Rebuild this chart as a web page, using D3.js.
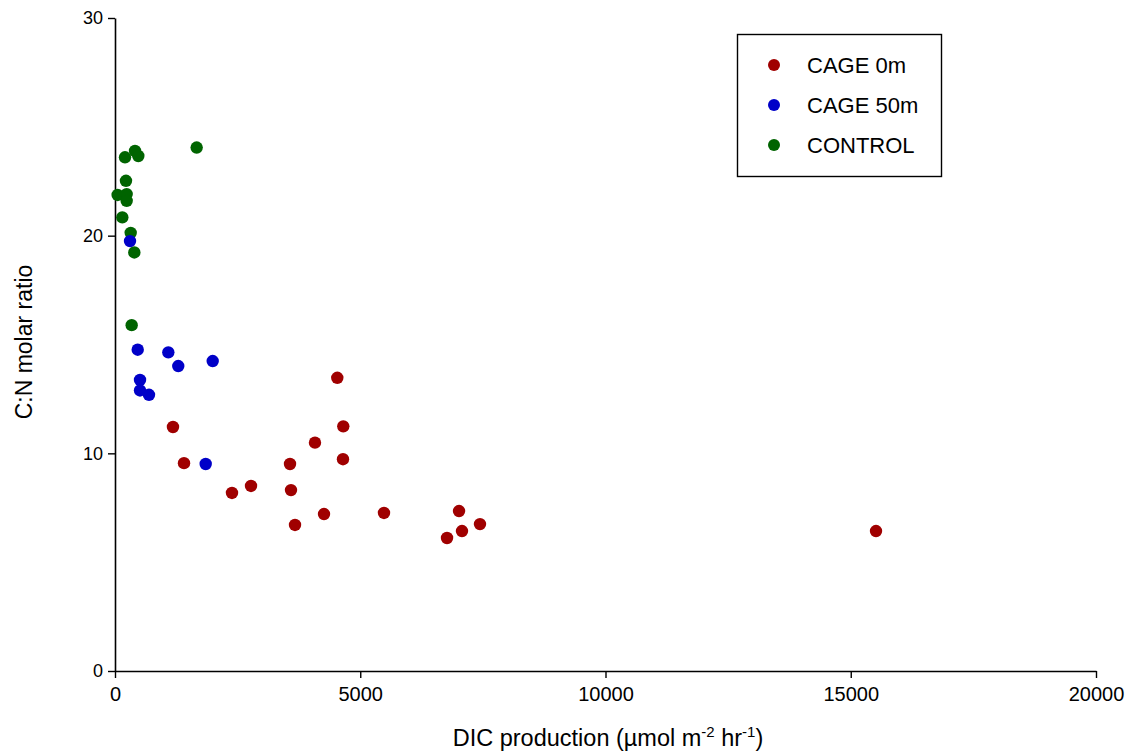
<!DOCTYPE html>
<html>
<head>
<meta charset="utf-8">
<script src="https://cdn.jsdelivr.net/npm/d3@7"></script>
<style>
  html, body { margin: 0; padding: 0; background: #fff; }
  svg { display: block; font-family: "Liberation Sans", Arial, sans-serif; }
</style>
</head>
<body>
<svg id="chart" width="1134" height="754"></svg>
<script>
// ---- Data ----
const seriesNames = ["CAGE 0m", "CAGE 50m", "CONTROL"];
const cage0X = [1182, 1407, 2385, 2773, 3568, 3588, 3670, 4077, 4261, 4532, 4654, 4648, 5484, 6769, 7014, 7074, 7441, 15515];
const cage0Y = [11.21, 9.55, 8.18, 8.50, 9.51, 8.31, 6.71, 10.49, 7.21, 13.47, 11.24, 9.73, 7.26, 6.11, 7.35, 6.43, 6.75, 6.43];
const cage50X = [306, 463, 1087, 1290, 1992, 510, 510, 693, 1849];
const cage50Y = [19.75, 14.76, 14.64, 14.01, 14.24, 13.37, 12.89, 12.69, 9.51];
const controlX = [1665, 408, 475, 204, 224, 54, 238, 238, 149, 320, 394, 340];
const controlY = [24.05, 23.89, 23.66, 23.60, 22.52, 21.87, 21.91, 21.60, 20.84, 20.13, 19.23, 15.89];
const xTicks = [0, 5000, 10000, 15000, 20000];
const yTicks = [0, 10, 20, 30];
const colors = ["#a00000", "#0000c8", "#006400"];

// ---- Layout ----
const svg = d3.select("#chart");
const x = d3.scaleLinear().domain([0, 20000]).range([115, 1096]);
const y = d3.scaleLinear().domain([0, 30]).range([671, 18]);

// axes
const xAxis = svg.append("g").attr("transform", `translate(0,${y(0)})`)
  .call(d3.axisBottom(x).tickValues(xTicks).tickFormat(d3.format("d")).tickSize(7).tickSizeOuter(0).tickPadding(9));
const yAxis = svg.append("g").attr("transform", `translate(${x(0)},0)`)
  .call(d3.axisLeft(y).tickValues(yTicks).tickFormat(d3.format("d")).tickSize(7).tickSizeOuter(0).tickPadding(5));

[xAxis, yAxis].forEach(g => {
  g.select(".domain").attr("stroke", "#000").attr("stroke-width", 1.6);
  g.selectAll(".tick line").attr("stroke", "#000").attr("stroke-width", 1.4);
  g.selectAll(".tick text").attr("fill", "#000").attr("font-family", "Liberation Sans, Arial, sans-serif");
});
xAxis.selectAll(".tick text").attr("font-size", 20);
yAxis.selectAll(".tick text").attr("font-size", 18);

// points
const groups = [
  { name: seriesNames[2], xs: controlX, ys: controlY, color: colors[2] },
  { name: seriesNames[1], xs: cage50X, ys: cage50Y, color: colors[1] },
  { name: seriesNames[0], xs: cage0X, ys: cage0Y, color: colors[0] }
];
groups.forEach(g => {
  svg.append("g").selectAll("circle")
    .data(g.xs.map((v, i) => [v, g.ys[i]]))
    .join("circle")
    .attr("cx", d => x(d[0]))
    .attr("cy", d => y(d[1]))
    .attr("r", 6.2)
    .attr("fill", g.color);
});

// axis titles
const xt = svg.append("text")
  .attr("x", 608).attr("y", 746)
  .attr("text-anchor", "middle")
  .attr("font-size", 23.5)
  .attr("fill", "#000");
xt.append("tspan").text("DIC production (\u00b5mol m");
xt.append("tspan").attr("font-size", 15).attr("dy", -9).text("-2");
xt.append("tspan").attr("dy", 9).text(" hr");
xt.append("tspan").attr("font-size", 15).attr("dy", -9).text("-1");
xt.append("tspan").attr("dy", 9).text(")");

svg.append("text")
  .attr("transform", "translate(32,342) rotate(-90)")
  .attr("text-anchor", "middle")
  .attr("font-size", 23)
  .attr("fill", "#000")
  .text("C:N molar ratio");

// legend
const legend = svg.append("g");
legend.append("rect")
  .attr("x", 737.5).attr("y", 34.5).attr("width", 204).attr("height", 142)
  .attr("fill", "#fff").attr("stroke", "#000").attr("stroke-width", 1.4);
const legY = [65, 105, 145];
seriesNames.forEach((n, i) => {
  legend.append("circle").attr("cx", 774).attr("cy", legY[i]).attr("r", 6).attr("fill", colors[i]);
  legend.append("text").attr("x", 807).attr("y", legY[i]).attr("dy", "0.36em")
    .attr("font-size", 22).attr("fill", "#000").text(n);
});
</script>
</body>
</html>
